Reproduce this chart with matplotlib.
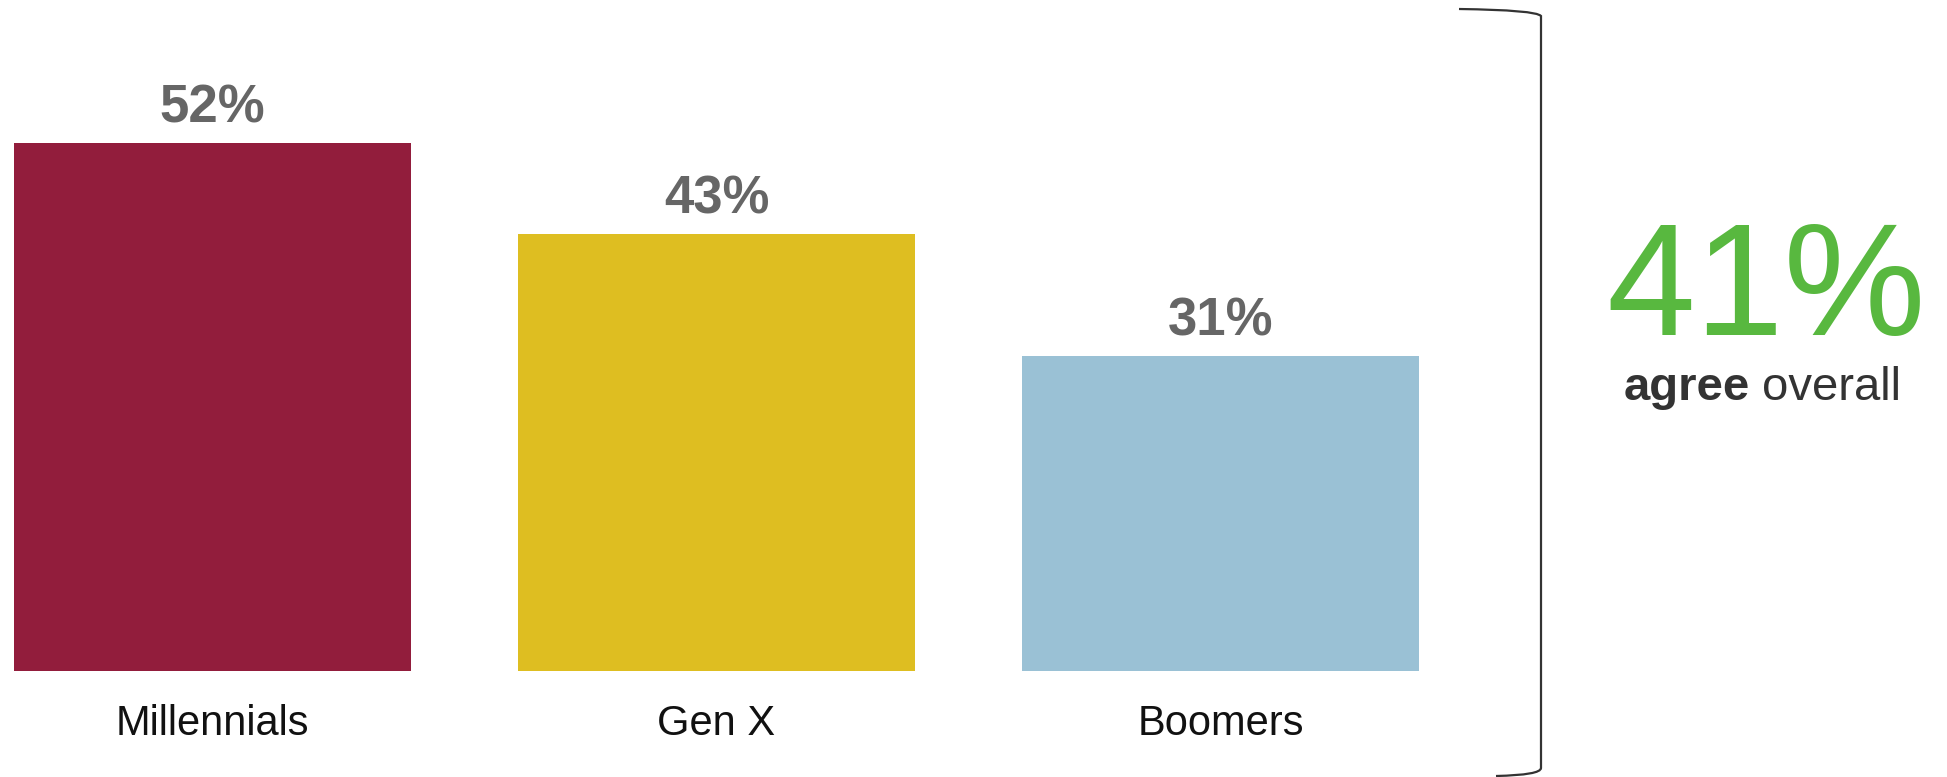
import matplotlib.pyplot as plt
import matplotlib.patches as mpatches
from matplotlib.path import Path

plt.rcParams['font.family'] = ['Liberation Sans', 'DejaVu Sans']

# survey share by generation
generaciones = ['Millennials', 'Gen X', 'Boomers']
porcentajes = [52, 43, 31]
colores = ['#921D3C', '#DEBE21', '#9AC1D5']
total = 41

W, H = 1947, 777
fig = plt.figure(figsize=(W / 100, H / 100), dpi=100)

# axes laid out so bar 0 sits at the left edge and zero at y=671px
ax = fig.add_axes([0, (H - 671) / H, 1, 671 / H])
x = list(range(len(generaciones)))
ax.bar(x, porcentajes, width=0.788, color=colores)
ax.set_xlim(-212.5 / 504, (W - 212.5) / 504)
ax.set_ylim(0, 671 / (528 / 52))

for xi, v in zip(x, porcentajes):
    ax.annotate(f'{v}%', (xi, v), xytext=(0, 15), textcoords='offset points',
                ha='center', va='baseline', fontsize=38, fontweight='bold',
                color='#666666')

ax.set_xticks(x, generaciones)
ax.tick_params(axis='x', length=0, pad=24, labelsize=30, labelcolor='#111111')
ax.set_yticks([])
for s in ax.spines.values():
    s.set_visible(False)
ax.patch.set_alpha(0)

# bracket around the bars
def px(xp, yp):
    return (xp / W, 1 - yp / H)

verts = [px(1459, 9), px(1536, 10), px(1541, 16),
         px(1541, 768),
         px(1541, 775), px(1496, 776)]
codes = [Path.MOVETO, Path.CURVE3, Path.CURVE3,
         Path.LINETO,
         Path.CURVE3, Path.CURVE3]
fig.patches.append(mpatches.PathPatch(Path(verts, codes), fill=False,
                                      edgecolor='#333333', lw=1.6,
                                      transform=fig.transFigure))

# overall figure
fig.text(1766 / W, 1 - 335 / H, f'{total}%', ha='center', va='baseline',
         fontsize=115, color='#58B83F')
fig.text(1750 / W, 1 - 400 / H, 'agree', ha='right', va='baseline',
         fontsize=34, fontweight='bold', color='#333333')
fig.text(1762 / W, 1 - 400 / H, 'overall', ha='left', va='baseline',
         fontsize=34, color='#333333')

fig.savefig('out.png', dpi=100, facecolor='white')
